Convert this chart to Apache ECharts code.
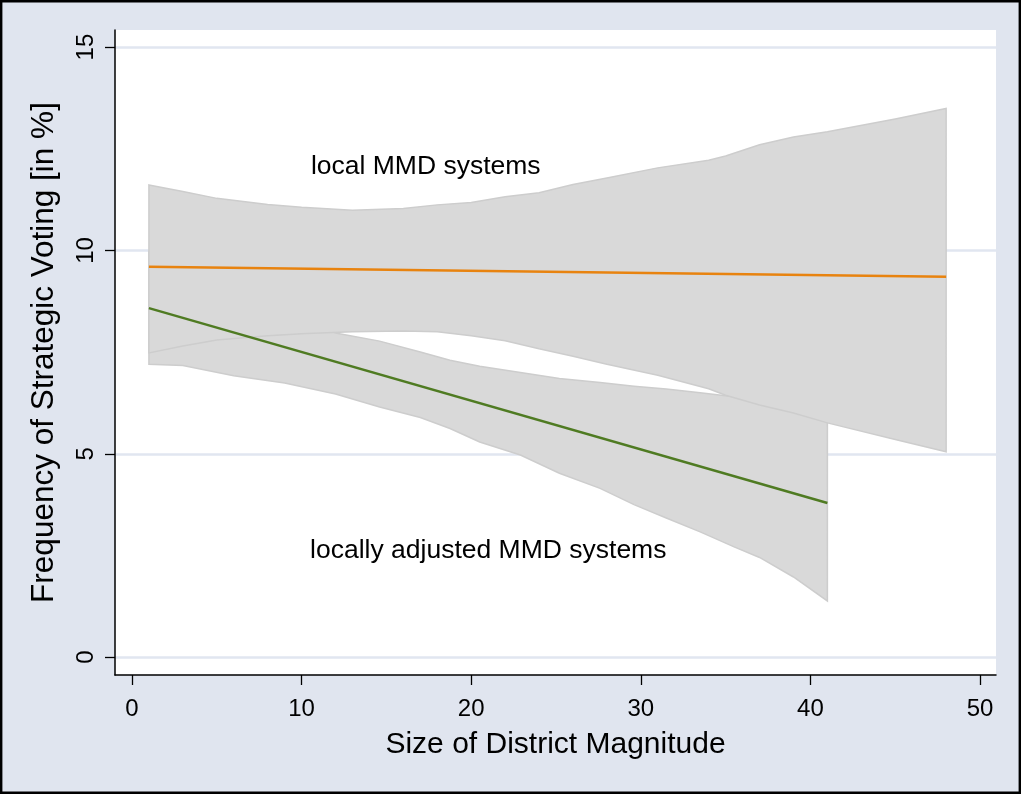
<!DOCTYPE html>
<html>
<head>
<meta charset="utf-8">
<script src="https://cdn.jsdelivr.net/npm/echarts@6/dist/echarts.min.js"></script>
<style>
html,body{margin:0;padding:0;background:#e0e5ef;}
#chart{width:1021px;height:794px;}
</style>
</head>
<body>
<div id="chart"></div>
<script>
// Tick labels
const xTicks = [0, 10, 20, 30, 40, 50];
const yTicks = [0, 5, 10, 15];

// Band 1: local MMD systems (confidence band)
const band1X     = [1, 3, 5, 8, 10, 13, 16, 18, 20, 22, 24, 26, 28, 31, 34, 35, 37, 39, 41, 45, 48];
const band1Upper = [11.61, 11.45, 11.28, 11.13, 11.06, 10.99, 11.03, 11.12, 11.18, 11.32, 11.42, 11.62, 11.78, 12.03, 12.22, 12.32, 12.60, 12.79, 12.92, 13.23, 13.49];
const band1Lower = [7.48, 7.65, 7.80, 7.90, 7.95, 8.00, 8.02, 8.00, 7.90, 7.78, 7.58, 7.40, 7.20, 6.93, 6.60, 6.44, 6.20, 6.00, 5.76, 5.35, 5.05];

// Band 2: locally adjusted MMD systems (confidence band)
const band2X     = [1, 3, 6, 9, 12, 14.6, 17, 18.75, 20.5, 22.9, 25.2, 27.6, 29.6, 31.5, 33.5, 35.5, 37, 39, 41];
const band2Upper = [9.96, 9.60, 9.10, 8.55, 7.97, 7.77, 7.50, 7.30, 7.15, 7.00, 6.85, 6.75, 6.66, 6.59, 6.50, 6.40, 6.30, 6.25, 6.20];
const band2Lower = [7.20, 7.17, 6.92, 6.74, 6.47, 6.15, 5.89, 5.62, 5.29, 4.97, 4.52, 4.15, 3.75, 3.42, 3.08, 2.71, 2.45, 1.97, 1.38];

// Fitted lines
const localX = [1, 48];
const localY = [9.60, 9.35];
const adjustedX = [1, 41];
const adjustedY = [8.58, 3.79];

// Annotations
const annotX = [10.55, 10.5];
const annotY = [12.07, 2.61];
const annotText = ['local MMD systems', 'locally adjusted MMD systems'];

const FONT = '"Liberation Sans", Arial, sans-serif';
const pairs = (xs, ys) => xs.map((x, i) => [x, ys[i]]);
const bandFill = '#d9d9d9';
const bandEdge = '#cdcdcd';

function bandSeries(xs, up, lo, z) {
  return {
    type: 'custom', z: z, silent: true,
    data: xs.map((x, i) => [x, lo[i], up[i]]),
    encode: {x: 0, y: [1, 2]},
    renderItem: function (params, api) {
      if (params.dataIndex !== 0) return null;
      const pts = [];
      for (let i = 0; i < xs.length; i++) pts.push(api.coord([xs[i], up[i]]));
      for (let i = xs.length - 1; i >= 0; i--) pts.push(api.coord([xs[i], lo[i]]));
      return {
        type: 'polygon',
        shape: {points: pts},
        style: {fill: bandFill, stroke: bandEdge, lineWidth: 1.5}
      };
    }
  };
}

const chart = echarts.init(document.getElementById('chart'), null, {renderer: 'canvas'});
chart.setOption({
  animation: false,
  backgroundColor: '#e0e5ef',
  textStyle: {fontFamily: FONT},
  graphic: [{
    type: 'rect', silent: true, z: 100,
    shape: {x: 1.2, y: 1.2, width: 1018.6, height: 791.6},
    style: {fill: 'none', stroke: '#000', lineWidth: 2.4}
  }],
  grid: {
    left: 115, right: 25, top: 30, bottom: 119,
    show: true, backgroundColor: '#ffffff', borderWidth: 0,
    containLabel: false, outerBoundsMode: 'none'
  },
  xAxis: {
    type: 'value', min: -1, max: 50.94,
    name: 'Size of District Magnitude', nameLocation: 'middle', nameGap: 55,
    nameTextStyle: {fontSize: 30, color: '#000', fontFamily: FONT},
    axisLine: {show: true, onZero: false, lineStyle: {color: '#000', width: 1.5}},
    axisTick: {show: true, length: 10, customValues: xTicks, lineStyle: {color: '#000', width: 1.3}},
    axisLabel: {customValues: xTicks, fontSize: 24, color: '#000', margin: 22, fontFamily: FONT},
    splitLine: {show: false}
  },
  yAxis: {
    type: 'value', min: -0.44, max: 15.42,
    name: 'Frequency of Strategic Voting [in %]', nameLocation: 'middle', nameGap: 55, nameRotate: 90,
    nameTextStyle: {fontSize: 31.5, color: '#000', fontFamily: FONT},
    axisLine: {show: true, onZero: false, lineStyle: {color: '#000', width: 1.5}},
    axisTick: {show: true, length: 10, customValues: yTicks, lineStyle: {color: '#000', width: 1.3}},
    axisLabel: {customValues: yTicks, rotate: 90, fontSize: 24, color: '#000', margin: 17, fontFamily: FONT},
    splitLine: {show: true, lineStyle: {color: '#e1e6f0', width: 2.5}}
  },
  series: [
    bandSeries(band2X, band2Upper, band2Lower, 2),
    bandSeries(band1X, band1Upper, band1Lower, 3),
    {
      type: 'line', name: 'local', data: pairs(localX, localY),
      symbol: 'none', lineStyle: {color: '#e8830f', width: 2.5}, z: 5
    },
    {
      type: 'line', name: 'adjusted', data: pairs(adjustedX, adjustedY),
      symbol: 'none', lineStyle: {color: '#4f7b22', width: 2.5}, z: 5
    },
    {
      type: 'scatter', name: 'labels', symbolSize: 0, z: 6,
      itemStyle: {opacity: 1},
      data: annotX.map((x, i) => ({value: [x, annotY[i]], name: annotText[i]})),
      label: {
        show: true, position: 'right', distance: 0, opacity: 1,
        formatter: p => p.name, fontSize: 26.5, color: '#000', fontFamily: FONT
      }
    }
  ]
});
</script>
</body>
</html>
